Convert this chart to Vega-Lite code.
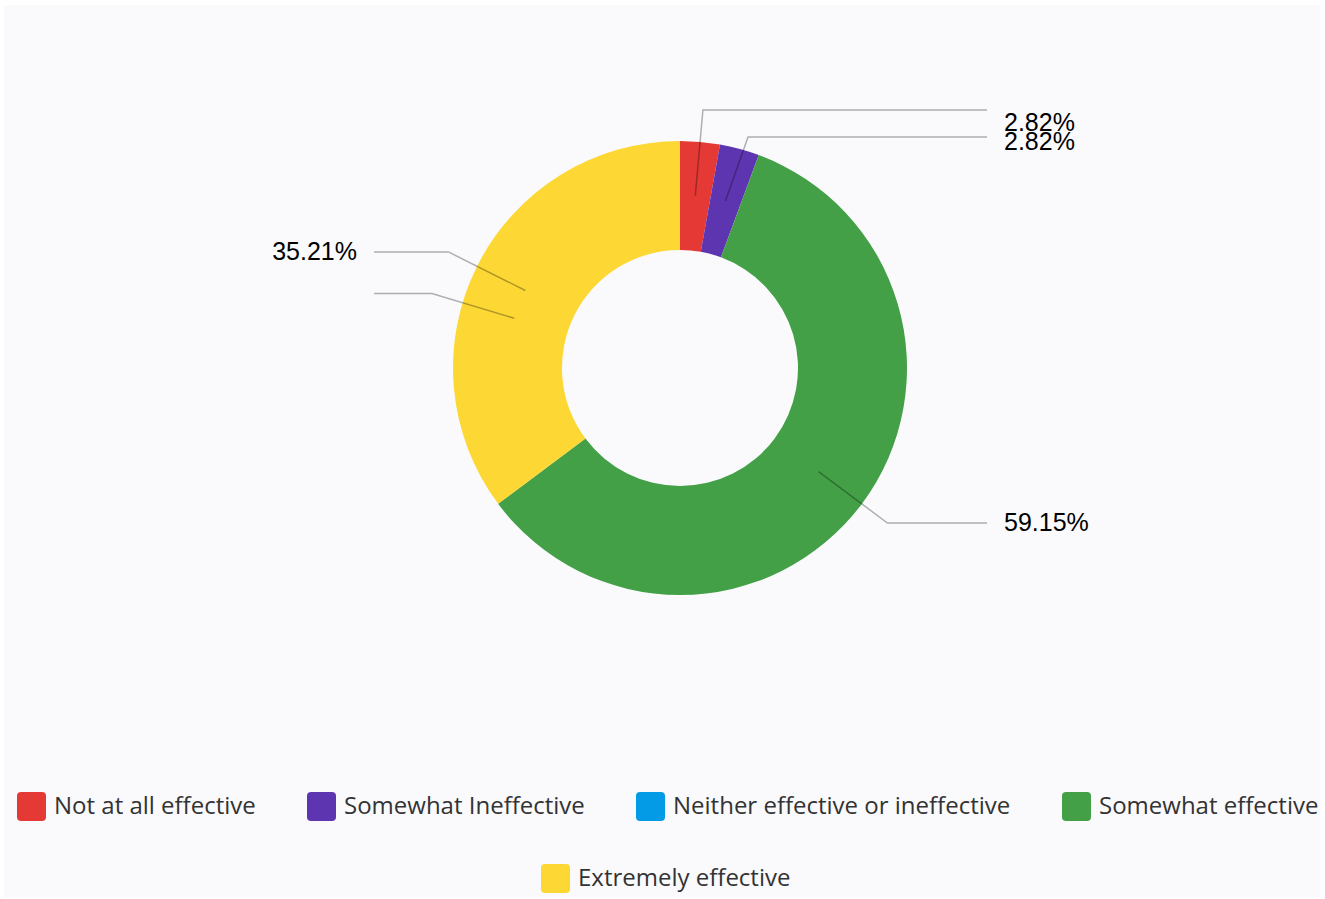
{
  "$schema": "https://vega.github.io/schema/vega-lite/v6.json",
  "width": 1316,
  "height": 892,
  "autosize": {"type": "none"},
  "padding": {"left": 4, "top": 5, "right": 5, "bottom": 2},
  "background": "#ffffff",
  "config": {"view": {"fill": "#fafafc", "stroke": null}},
  "data": {
    "values": [
      {"cat": "Not at all effective", "value": 2.82, "rank": 1},
      {"cat": "Somewhat Ineffective", "value": 2.82, "rank": 2},
      {"cat": "Neither effective or ineffective", "value": 0, "rank": 3},
      {"cat": "Somewhat effective", "value": 59.15, "rank": 4},
      {"cat": "Extremely effective", "value": 35.21, "rank": 5}
    ]
  },
  "transform": [
    {"joinaggregate": [{"op": "sum", "field": "value", "as": "total"}]},
    {"window": [{"op": "sum", "field": "value", "as": "cum"}], "sort": [{"field": "rank"}], "frame": [null, 0]},
    {"calculate": "datum.cat === 'Neither effective or ineffective' ? 5.004 : 2*PI*(datum.cum - datum.value/2)/datum.total", "as": "mid"},
    {"calculate": "173*sin(datum.mid)", "as": "p1x"},
    {"calculate": "259*sin(datum.mid)", "as": "p2x"},
    {"calculate": "sin(datum.mid) >= 0 ? 307 : -306", "as": "p3x"},
    {"calculate": "-173*cos(datum.mid)", "as": "y1"},
    {"calculate": "datum.cat === 'Somewhat Ineffective' ? -231 : -259*cos(datum.mid)", "as": "y2"},
    {"calculate": "sin(datum.mid) >= 0 ? 324 : -323", "as": "lx"},
    {"calculate": "datum.y2 + (datum.cat === 'Not at all effective' ? 13 : (datum.cat === 'Somewhat Ineffective' ? 5 : 0))", "as": "ly"},
    {"calculate": "format(datum.value, '.2f') + '%'", "as": "label"}
  ],
  "layer": [
    {
      "mark": {"type": "arc", "outerRadius": 227, "innerRadius": 118},
      "encoding": {
        "x": {"datum": 0, "type": "quantitative", "scale": {"domain": [-676, 640], "nice": false, "zero": false}, "axis": null},
        "y": {"datum": 0, "type": "quantitative", "scale": {"domain": [-363, 529], "reverse": true, "nice": false, "zero": false}, "axis": null},
        "theta": {"field": "value", "type": "quantitative", "stack": true},
        "order": {"field": "rank", "type": "quantitative"},
        "color": {
          "field": "cat",
          "type": "nominal",
          "scale": {
            "domain": ["Not at all effective", "Somewhat Ineffective", "Neither effective or ineffective", "Somewhat effective", "Extremely effective"],
            "range": ["#E53935", "#5E35B1", "#039BE5", "#43A047", "#FDD835"]
          },
          "legend": {
            "orient": "none",
            "legendX": 13,
            "legendY": 787,
            "direction": "horizontal",
            "title": null,
            "padding": 0,
            "values": ["Not at all effective", "Somewhat Ineffective", "Neither effective or ineffective", "Somewhat effective"],
            "symbolType": "M-1,-0.72Q-1,-1,-0.72,-1L0.72,-1Q1,-1,1,-0.72L1,0.72Q1,1,0.72,1L-0.72,1Q-1,1,-1,0.72Z",
            "symbolSize": 841,
            "symbolStrokeWidth": 0,
            "symbolOpacity": 1,
            "labelFont": "Open Sans",
            "labelFontSize": 24,
            "labelColor": "#333333",
            "labelOffset": 8,
            "labelLimit": 600,
            "columnPadding": 51
          }
        }
      }
    },
    {
      "transform": [{"filter": "datum.cat === 'Extremely effective'"}],
      "mark": {"type": "point", "filled": true, "size": 0},
      "encoding": {
        "x": {"datum": 0, "type": "quantitative"},
        "y": {"datum": 0, "type": "quantitative"},
        "fill": {
          "field": "cat",
          "type": "nominal",
          "scale": {"domain": ["Extremely effective"], "range": ["#FDD835"]},
          "legend": {
            "orient": "none",
            "legendX": 537,
            "legendY": 859,
            "direction": "horizontal",
            "title": null,
            "padding": 0,
            "symbolType": "M-1,-0.72Q-1,-1,-0.72,-1L0.72,-1Q1,-1,1,-0.72L1,0.72Q1,1,0.72,1L-0.72,1Q-1,1,-1,0.72Z",
            "symbolSize": 841,
            "symbolStrokeWidth": 0,
            "symbolOpacity": 1,
            "labelFont": "Open Sans",
            "labelFontSize": 24,
            "labelColor": "#333333",
            "labelOffset": 8,
            "labelLimit": 600
          }
        }
      }
    },
    {
      "transform": [
        {"fold": ["p1x", "p2x", "p3x"], "as": ["k", "px"]},
        {"calculate": "datum.k === 'p1x' ? datum.y1 : datum.y2", "as": "py"}
      ],
      "mark": {"type": "line", "stroke": "#000000", "strokeOpacity": 0.3, "strokeWidth": 1.5},
      "encoding": {
        "x": {"field": "px", "type": "quantitative"},
        "y": {"field": "py", "type": "quantitative"},
        "detail": {"field": "cat", "type": "nominal"},
        "order": {"field": "k", "type": "ordinal"}
      }
    },
    {
      "transform": [{"filter": "datum.value > 0 && datum.lx > 0"}],
      "mark": {"type": "text", "align": "left", "baseline": "middle", "font": "Liberation Sans", "fontSize": 25, "color": "#000000"},
      "encoding": {
        "x": {"field": "lx", "type": "quantitative"},
        "y": {"field": "ly", "type": "quantitative"},
        "text": {"field": "label", "type": "nominal"}
      }
    },
    {
      "transform": [{"filter": "datum.value > 0 && datum.lx < 0"}],
      "mark": {"type": "text", "align": "right", "baseline": "middle", "font": "Liberation Sans", "fontSize": 25, "color": "#000000"},
      "encoding": {
        "x": {"field": "lx", "type": "quantitative"},
        "y": {"field": "ly", "type": "quantitative"},
        "text": {"field": "label", "type": "nominal"}
      }
    }
  ]
}
